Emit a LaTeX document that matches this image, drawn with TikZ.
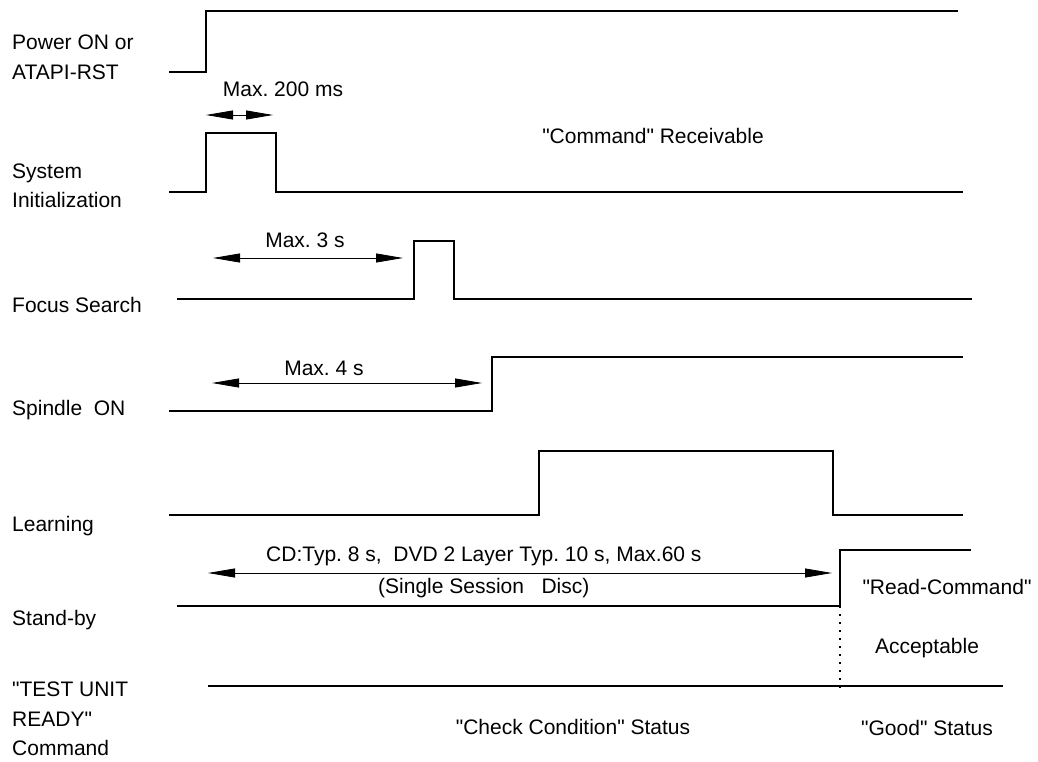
\documentclass[tikz,border=0pt]{standalone}
\usepackage{fontspec}
\setmainfont{Liberation Sans}
\frenchspacing
\newcommand{\dq}{\textquotedbl}
\usetikzlibrary{arrows.meta,positioning}
\tikzset{
  signal/.style={line width=1.6pt, line join=miter},
  span/.style={line width=0.8pt, {Triangle[length=27pt,width=9pt]}-{Triangle[length=27pt,width=9pt]}},
  lbl/.style={anchor=west, align=left, inner sep=0pt, font=\fontsize{21}{29.5}\selectfont},
  txt/.style={inner sep=0pt, font=\fontsize{21}{25}\selectfont},
}

\begin{document}
\begin{tikzpicture}[x=1pt,y=-1pt]
    \useasboundingbox (0,0) rectangle (1038,762);

    % signal names
    \node[lbl] (pwr)   at (12,57.5) {Power ON or\\ATAPI-RST};
    \node[lbl] (init)  at (12,186)  {System\\Initialization};
    \node[lbl] (focus) at (12,305)  {Focus Search};
    \node[lbl] (spin)  at (12,410)  {Spindle\ \ ON};
    \node[lbl] (learn) at (12,526)  {Learning};
    \node[lbl] (stby)  at (12,620)  {Stand-by};
    \node[lbl] (tur)   at (12,719)  {\dq TEST UNIT\\READY\dq\\Command};

    % waveforms
    \draw[signal] (169,72) -- (206,72) -- (206,11) -- (958,11);
    \draw[signal] (169,192) -- (206,192) -- (206,133) -- (276,133) -- (276,192) -- (963,192);
    \draw[signal] (177,299) -- (414,299) -- (414,241) -- (454,241) -- (454,299) -- (972,299);
    \draw[signal] (169,411) -- (492,411) -- (492,357) -- (963,357);
    \draw[signal] (169,515) -- (539,515) -- (539,451) -- (833,451) -- (833,515) -- (963,515);
    \draw[signal] (177,606) -- (840,606) -- (840,550) -- (971,550);
    \draw[signal] (208,686) -- (1003,686);

    \coordinate (rdy1) at (840,606);
    \coordinate (rdy2) at (840,692);
    \draw[line width=1.5pt, dash pattern=on 1.5pt off 6.5pt] (rdy1) -- (rdy2);

    % timing spans
    \coordinate (A1) at (206,115);
    \coordinate (A2) at (273,115);
    \coordinate (B1) at (213,258);
    \coordinate (B2) at (403,258);
    \coordinate (C1) at (212,383);
    \coordinate (C2) at (482,383);
    \coordinate (D1) at (208,573);
    \coordinate (D2) at (832,573);

    \draw[span] (A1) -- (A2);
    \draw[span] (B1) -- (B2);
    \draw[span] (C1) -- (C2);
    \draw[span] (D1) -- (D2);

    \node[txt] (t200) at (283,89)  {Max. 200 ms};
    \node[txt] (t3)   at (305,240) {Max. 3 s};
    \node[txt] (t4)   at (324,368) {Max. 4 s};
    \node[txt, anchor=west] (tcd)  at (266,556) {CD:Typ. 8 s,\ \ DVD 2 Layer Typ. 10 s, Max.60 s};
    \node[txt, anchor=west] (tssd) at (378,588) {(Single Session\ \ \ Disc)};

    % states
    \node[txt] (recv) at (653,136) {\dq Command\dq\ Receivable};
    \node[txt] (rdc)  at (947,587) {\dq Read-Command\dq};
    \node[txt] (acc)  at (927,648) {Acceptable};
    \node[txt] (chk)  at (573,727) {\dq Check Condition\dq\ Status};
    \node[txt] (good) at (927,728) {\dq Good\dq\ Status};

\end{tikzpicture}
\end{document}
